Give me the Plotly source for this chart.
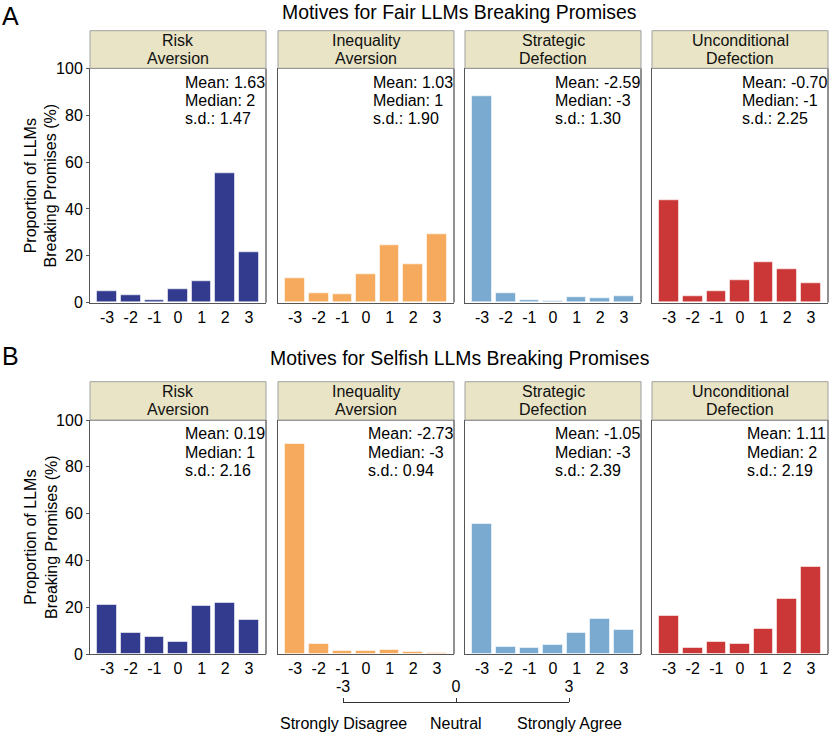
import plotly.graph_objects as go

# ---------------- data ----------------
categories = [-3, -2, -1, 0, 1, 2, 3]
tick_labels = ["-3", "-2", "-1", "0", "1", "2", "3"]

motives = [["Risk", "Aversion"], ["Inequality", "Aversion"],
           ["Strategic", "Defection"], ["Unconditional", "Defection"]]

fair_risk = [4.7, 3.1, 0.9, 5.7, 9.0, 55.2, 21.5]
fair_ineq = [10.4, 3.8, 3.4, 12.1, 24.6, 16.5, 29.3]
fair_strat = [87.9, 3.8, 0.9, 0.7, 2.1, 1.7, 2.7]
fair_uncond = [43.5, 2.7, 4.7, 9.4, 17.2, 14.2, 8.1]

selfish_risk = [20.8, 9.1, 7.1, 5.3, 20.4, 21.7, 14.4]
selfish_ineq = [89.6, 4.1, 1.3, 1.3, 1.6, 1.0, 0.3]
selfish_strat = [55.7, 3.0, 2.4, 3.8, 9.1, 15.1, 10.3]
selfish_uncond = [16.1, 2.7, 5.0, 4.3, 10.5, 23.5, 37.2]

fair_mean = ["1.63", "1.03", "-2.59", "-0.70"]
fair_median = ["2", "1", "-3", "-1"]
fair_sd = ["1.47", "1.90", "1.30", "2.25"]

selfish_mean = ["0.19", "-2.73", "-1.05", "1.11"]
selfish_median = ["1", "-3", "-3", "2"]
selfish_sd = ["2.16", "0.94", "2.39", "2.19"]

y_ticks = [0, 20, 40, 60, 80, 100]
scale_ticks = [-3, 0, 3]
scale_words = ["Strongly Disagree", "Neutral", "Strongly Agree"]

titles = ["Motives for Fair LLMs Breaking Promises",
          "Motives for Selfish LLMs Breaking Promises"]
panel_letters = ["A", "B"]

colors = ["#323B8D", "#F6AA5E", "#7AAACF", "#CB3636"]

# ---------------- layout geometry (pixels) ----------------
W, H = 830, 734
FONT = "Liberation Sans, Arial, sans-serif"
panel_x = [(90, 266), (278, 454), (465, 641), (652, 828)]
rows = [dict(top=68.3, bottom=302.7, strip_top=30.7, title_y=12.5, letter_y=16),
        dict(top=420.0, bottom=654.0, strip_top=381.7, title_y=358, letter_y=356)]


def px(x):
    return x / W


def py(y):
    return 1 - y / H


# Arial advance widths (per 1000 em) for stat text
CW = {"M": 833, "e": 556, "a": 556, "n": 556, ":": 278, " ": 278, "-": 333, ".": 278}


def text_w(s, size):
    return sum(CW.get(c, 556) for c in s) * size / 1000.0


fig = go.Figure()
layout = dict(width=W, height=H, autosize=False,
              margin=dict(l=0, r=0, t=0, b=0, pad=0, autoexpand=False),
              paper_bgcolor="white", plot_bgcolor="white", showlegend=False,
              font=dict(family=FONT, size=16, color="black"), bargap=0)
shapes = []
annotations = []

data = [[fair_risk, fair_ineq, fair_strat, fair_uncond],
        [selfish_risk, selfish_ineq, selfish_strat, selfish_uncond]]
stats = [[fair_mean, fair_median, fair_sd], [selfish_mean, selfish_median, selfish_sd]]

k = 0
for r, row in enumerate(rows):
    ph = row["bottom"] - row["top"]
    strip_frac = (row["top"] - row["strip_top"]) / ph
    for c in range(4):
        k += 1
        xa = "x" if k == 1 else f"x{k}"
        ya = "y" if k == 1 else f"y{k}"
        x0, x1 = panel_x[c]
        fig.add_trace(go.Bar(
            x=categories, y=data[r][c], xaxis=xa, yaxis=ya, width=0.83,
            marker=dict(color=colors[c], line=dict(color="rgba(255,255,255,0.55)", width=1)),
            hoverinfo="x+y"))
        layout["xaxis" if k == 1 else f"xaxis{k}"] = dict(
            domain=[px(x0), px(x1)], anchor=ya, range=[-3.72, 3.72], automargin=False,
            tickmode="array", tickvals=categories, ticktext=tick_labels,
            ticks="", showline=True, linecolor="#555555", linewidth=1,
            showgrid=False, zeroline=False, fixedrange=True,
            tickfont=dict(size=16, family=FONT, color="black"))
        layout["yaxis" if k == 1 else f"yaxis{k}"] = dict(
            domain=[py(row["bottom"]), py(row["top"])], anchor=xa, range=[0, 100],
            automargin=False,
            tickmode="array", tickvals=y_ticks, ticks="outside" if c == 0 else "",
            ticklen=3, tickcolor="#555555", showticklabels=(c == 0),
            showline=True, linecolor="#555555", linewidth=1,
            showgrid=False, zeroline=False, fixedrange=True,
            tickfont=dict(size=16, family=FONT, color="black"))
        xd, yd = f"{xa} domain", f"{ya} domain"
        # top & right frame
        shapes.append(dict(type="line", xref=xd, yref=yd, x0=0, x1=1, y0=1, y1=1,
                           line=dict(color="#222222", width=1)))
        shapes.append(dict(type="line", xref=xd, yref=yd, x0=1, x1=1, y0=0, y1=1,
                           line=dict(color="#222222", width=1)))
        # strip
        shapes.append(dict(type="rect", xref=xd, yref=yd, x0=0, x1=1, y0=1, y1=1 + strip_frac,
                           fillcolor="#E8E4C5", line=dict(color="#A0A0A0", width=1)))
        cx = (x0 + x1) / 2
        for li, line_txt in enumerate(motives[c]):
            annotations.append(dict(text=line_txt, xref="paper", yref="paper",
                                    x=px(cx), y=py(row["strip_top"] + 9.5 + 18.2 * li),
                                    xanchor="center", yanchor="middle", showarrow=False,
                                    font=dict(size=16, family=FONT, color="#111111")))
        # stats text
        mean_s = f"Mean: {stats[r][0][c]}"
        lines = [mean_s, f"Median: {stats[r][1][c]}", f"s.d.: {stats[r][2][c]}"]
        left = x1 - 3 - text_w(mean_s, 16)
        for li, line_txt in enumerate(lines):
            annotations.append(dict(text=line_txt, xref="paper", yref="paper",
                                    x=px(left), y=py(row["top"] + 14.0 + 18.3 * li),
                                    xanchor="left", yanchor="middle", showarrow=False,
                                    font=dict(size=16, family=FONT, color="black")))
    # row title & letter
    annotations.append(dict(text=titles[r], xref="paper", yref="paper",
                            x=px(459.5), y=py(row["title_y"]), xanchor="center", yanchor="middle",
                            showarrow=False, font=dict(size=19.4, family=FONT, color="black")))
    annotations.append(dict(text=panel_letters[r], xref="paper", yref="paper",
                            x=px(10), y=py(row["letter_y"]), xanchor="center", yanchor="middle",
                            showarrow=False, font=dict(size=25, family=FONT, color="black")))
    # y-axis title
    annotations.append(dict(text="Proportion of LLMs<br>Breaking Promises (%)",
                            xref="paper", yref="paper", x=px(41),
                            y=py((row["top"] + row["bottom"]) / 2), xanchor="center",
                            yanchor="middle", textangle=-90, showarrow=False,
                            font=dict(size=16, family=FONT, color="black")))

# ---------------- scale legend axis ----------------
layout["xaxis9"] = dict(domain=[px(343), px(569)], anchor="y9", range=[-3, 3], side="top",
                        automargin=False,
                        tickmode="array", tickvals=scale_ticks,
                        ticktext=[str(t) for t in scale_ticks], ticks="outside", ticklen=4,
                        tickcolor="#333333", showline=True, linecolor="#333333", linewidth=1,
                        showgrid=False, zeroline=False, fixedrange=True,
                        tickfont=dict(size=16, family=FONT, color="black"))
layout["yaxis9"] = dict(domain=[py(706), py(703.3)], anchor="x9", visible=False,
                        range=[0, 1], fixedrange=True, automargin=False)
fig.add_trace(go.Scatter(x=[], y=[], xaxis="x9", yaxis="y9"))
for t, word in zip(scale_ticks, scale_words):
    annotations.append(dict(text=word, xref="x9", yref="paper", x=t, y=py(723.3),
                            xanchor="center", yanchor="middle", showarrow=False,
                            font=dict(size=16, family=FONT, color="black")))

layout["shapes"] = shapes
layout["annotations"] = annotations
fig.update_layout(**layout)
fig.write_html("out.html", config={"displayModeBar": False},
               post_script="document.body.style.margin='0';document.body.style.overflow='hidden';")
